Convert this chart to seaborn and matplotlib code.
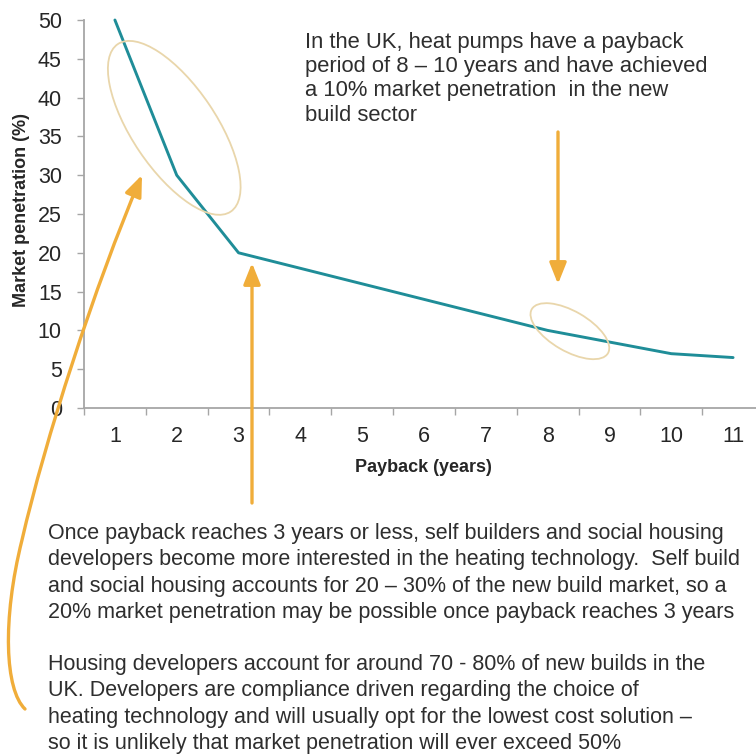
import matplotlib
matplotlib.use("Agg")
import matplotlib.pyplot as plt
import numpy as np
import pandas as pd
import seaborn as sns
from matplotlib.patches import Ellipse, FancyArrowPatch
from matplotlib.path import Path
from matplotlib.transforms import ScaledTranslation

# Market penetration against payback period
payback_years = [1, 2, 3, 4, 5, 6, 7, 8, 9, 10, 11]
market_penetration = [50, 30, 20, 18, 16, 14, 12, 10, 8.5, 7, 6.5]
y_ticks = [0, 5, 10, 15, 20, 25, 30, 35, 40, 45, 50]

note_top = ("In the UK, heat pumps have a payback\n"
            "period of 8 \u2013 10 years and have achieved\n"
            "a 10% market penetration  in the new\n"
            "build sector")
note_mid = ("Once payback reaches 3 years or less, self builders and social housing\n"
            "developers become more interested in the heating technology.  Self build\n"
            "and social housing accounts for 20 \u2013 30% of the new build market, so a\n"
            "20% market penetration may be possible once payback reaches 3 years")
note_low = ("Housing developers account for around 70 - 80% of new builds in the\n"
            "UK. Developers are compliance driven regarding the choice of\n"
            "heating technology and will usually opt for the lowest cost solution \u2013\n"
            "so it is unlikely that market penetration will ever exceed 50%")

sns.set_theme(style="white")
plt.rcParams["font.family"] = ["Liberation Sans", "DejaVu Sans"]

W, H = 756, 755
fig = plt.figure(figsize=(W / 100, H / 100), dpi=100)
fig.patch.set_facecolor("white")


def px(x, y):
    """Pixel position (from top-left) to figure fraction."""
    return (x / W, 1 - y / H)


ax = fig.add_axes([84 / W, 1 - 408 / H, 680 / W, 388 / H])
ax.set_facecolor("white")

df = pd.DataFrame({"payback": payback_years, "penetration": market_penetration})
sns.lineplot(data=df, x="payback", y="penetration", ax=ax,
             color="#1f8d98", linewidth=2.1, clip_on=False)

ax.set_xlim(0.5, 11.5)
ax.set_ylim(0, 50)

axis_grey = "#a6a6a6"
for side in ("top", "right"):
    ax.spines[side].set_visible(False)
for side in ("left", "bottom"):
    ax.spines[side].set_color(axis_grey)
    ax.spines[side].set_linewidth(1.3)

# boundary ticks between categories, labels centred on each year
ax.set_xticks(np.arange(0.5, 12, 1.0))
ax.set_xticklabels([])
ax.set_xticks(payback_years, minor=True)
ax.set_xticklabels([str(v) for v in payback_years], minor=True)
ax.tick_params(axis="x", which="major", direction="out", length=5,
               width=1, color=axis_grey, bottom=True)
ax.tick_params(axis="x", which="minor", length=0, pad=13,
               labelsize=15.5, labelcolor="#262626", bottom=True)

ax.set_yticks(y_ticks)
ax.set_yticklabels([str(v) for v in y_ticks])
ax.tick_params(axis="y", direction="out", length=5, width=1, color=axis_grey,
               pad=11, labelsize=15.5, labelcolor="#262626", left=True)
ax.set_xlabel("")
ax.set_ylabel("")

fig.text(*px(22, 210), "Market penetration (%)", rotation=90, ha="center",
         va="center", fontsize=13, fontweight="bold", color="#262626")
fig.text(*px(423, 468), "Payback (years)", ha="center", va="center",
         fontsize=13, fontweight="bold", color="#262626")

# highlight ellipses, anchored at data positions
ell_color = "#e9d6ab"
for (cx, cy), w, h, ang in [((1.96, 36.1), 2.02, 0.84, -56),
                            ((8.36, 9.9), 0.88, 0.40, -30)]:
    tr = fig.dpi_scale_trans + ScaledTranslation(cx, cy, ax.transData)
    e = Ellipse((0, 0), w, h, angle=ang, transform=tr, fill=False,
                edgecolor=ell_color, linewidth=1.3, clip_on=False)
    fig.add_artist(e)

arrow_color = "#f0ad3a"
arrow_style = "-|>,head_length=0.8,head_width=0.32"

for start, end in [((252, 503), (252, 263)), ((558, 132), (558, 284))]:
    a = FancyArrowPatch(px(*start), px(*end), transform=fig.transFigure,
                        arrowstyle=arrow_style, mutation_scale=16,
                        color=arrow_color, linewidth=2.4,
                        shrinkA=0, shrinkB=0)
    fig.add_artist(a)

curve_pts = [(25, 709), (5, 690), (2, 620), (22, 540),
             (45, 440), (95, 285), (142, 175)]
curve_codes = [Path.MOVETO] + [Path.CURVE4] * 6
curve = Path([px(x, y) for x, y in curve_pts], curve_codes)
ca = FancyArrowPatch(path=curve, transform=fig.transFigure,
                     arrowstyle=arrow_style, mutation_scale=16,
                     color=arrow_color, linewidth=2.4, shrinkA=0, shrinkB=0)
fig.add_artist(ca)

text_color = "#2e2e2e"
fig.text(*px(305, 32), note_top, ha="left", va="top", fontsize=15.8,
         color=text_color, linespacing=1.2)
fig.text(*px(48, 523), note_mid, ha="left", va="top", fontsize=15.5,
         color=text_color, linespacing=1.33)
fig.text(*px(48, 654), note_low, ha="left", va="top", fontsize=15.5,
         color=text_color, linespacing=1.33)

fig.savefig("out.png", dpi=100, facecolor="white")
